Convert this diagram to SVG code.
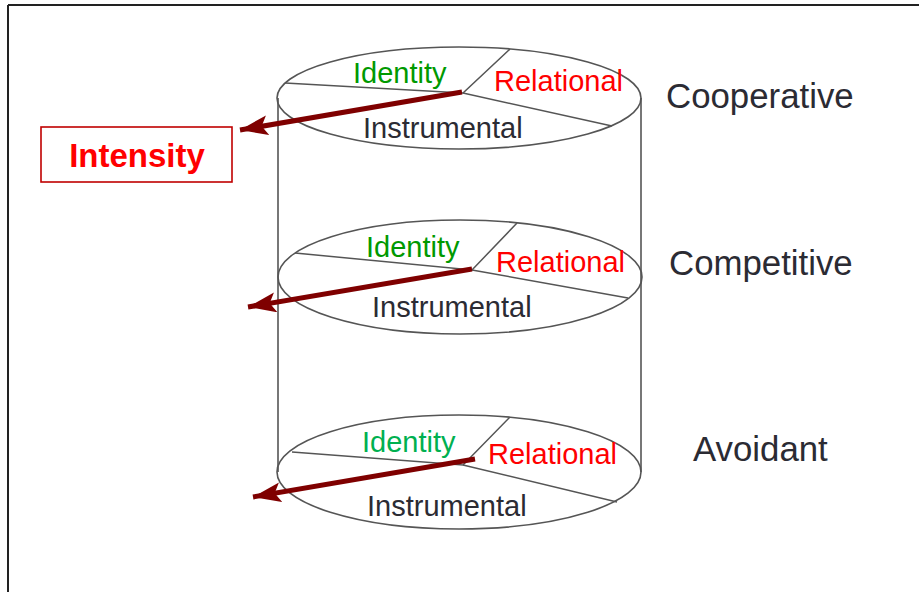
<svg xmlns="http://www.w3.org/2000/svg" width="919" height="592" viewBox="0 0 919 592">
<style>
.el{fill:none;stroke:#555;stroke-width:1.6}
.div{fill:none;stroke:#555;stroke-width:1.5}
.t{font-family:"Liberation Sans",Arial,sans-serif;font-size:29px}
.id1{fill:#009900}
.id3{fill:#00b050}
.rel{fill:#ff0000}
.ins{fill:#2b2b33}
.lbl{font-family:"Liberation Sans",Arial,sans-serif;font-size:34.8px;fill:#2b2b33}
.arr{stroke:#7f0000;stroke-width:5;fill:none;marker-end:url(#ah)}
</style>
<defs>
<marker id="ah" markerUnits="userSpaceOnUse" markerWidth="34" markerHeight="22" refX="28" refY="10" orient="auto">
<path d="M0,0 L28,10 L0,20 L6,10 Z" fill="#7f0000"/>
</marker>
</defs>
<rect width="919" height="592" fill="#fff"/>
<g id="frame">
<line x1="8" y1="5" x2="919" y2="5" stroke="#222" stroke-width="2"/>
<line x1="8" y1="5" x2="8" y2="592" stroke="#222" stroke-width="2"/>
</g>
<g id="cylinder">
<line x1="278" y1="98" x2="278" y2="472" class="el"/>
<line x1="641" y1="98" x2="641" y2="472" class="el"/>
</g>
<g id="layer-cooperative">
<ellipse cx="459" cy="98" rx="182" ry="51" fill="#fff" class="el"/>
<polyline class="div" points="285,83 463,93 510,49"/>
<line class="div" x1="463" y1="93" x2="612" y2="126"/>
<text class="t id1" x="353" y="83">Identity</text>
<text class="t rel" x="494" y="91">Relational</text>
<text class="t ins" x="363" y="138">Instrumental</text>
</g>
<g id="layer-competitive">
<ellipse cx="460" cy="277" rx="182" ry="57" fill="#fff" class="el"/>
<polyline class="div" points="295,253 472,270 517,223"/>
<line class="div" x1="472" y1="270" x2="628" y2="298"/>
<text class="t id1" x="366" y="257">Identity</text>
<text class="t rel" x="496" y="272">Relational</text>
<text class="t ins" x="372" y="317">Instrumental</text>
</g>
<g id="layer-avoidant">
<ellipse cx="459" cy="472" rx="182" ry="57" fill="#fff" class="el"/>
<polyline class="div" points="292,452 463,465 510,417"/>
<line class="div" x1="463" y1="465" x2="617" y2="502"/>
<text class="t id3" x="362" y="452">Identity</text>
<text class="t rel" x="488" y="464">Relational</text>
<text class="t ins" x="367" y="516">Instrumental</text>
</g>
<g id="connectors">
<line class="arr" x1="462" y1="92" x2="240" y2="130"/>
<line class="arr" x1="472" y1="269" x2="248" y2="307"/>
<line class="arr" x1="475" y1="459" x2="253" y2="497"/>
</g>
<g id="intensity">
<rect x="41" y="127" width="191" height="55" fill="#fff" stroke="#c00000" stroke-width="1.6"/>
<text x="137" y="167" text-anchor="middle" font-family="'Liberation Sans',Arial,sans-serif" font-size="33" font-weight="bold" fill="#ff0000">Intensity</text>
</g>
<g id="labels">
<text class="lbl" x="666" y="108">Cooperative</text>
<text class="lbl" x="669" y="275">Competitive</text>
<text class="lbl" x="693" y="461">Avoidant</text>
</g>
</svg>
